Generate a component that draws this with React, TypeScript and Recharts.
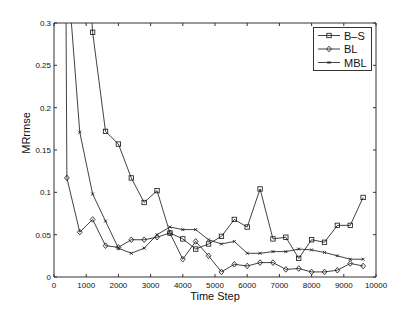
import React from "react";
import { Legend, Line, LineChart, XAxis, YAxis } from "recharts";

// time steps (x) and the three error series
const steps = [
  0, 400, 800, 1200, 1600, 2000, 2400, 2800, 3200, 3600, 4000, 4400, 4800,
  5200, 5600, 6000, 6400, 6800, 7200, 7600, 8000, 8400, 8800, 9200, 9600,
];
const bsValues = [
  1.2, 0.8, 0.5, 0.289, 0.172, 0.157, 0.117, 0.088, 0.102, 0.052, 0.045, 0.033,
  0.039, 0.048, 0.068, 0.059, 0.104, 0.045, 0.047, 0.022, 0.044, 0.041, 0.061,
  0.061, 0.094,
];
const blValues = [
  3, 0.117, 0.053, 0.068, 0.037, 0.035, 0.044, 0.044, 0.047, 0.052, 0.021,
  0.042, 0.025, 0.006, 0.015, 0.013, 0.017, 0.017, 0.009, 0.01, 0.006, 0.006,
  0.008, 0.016, 0.013,
];
const mblValues = [
  0.9, 0.37, 0.171, 0.098, 0.066, 0.034, 0.028, 0.034, 0.05, 0.059, 0.056,
  0.056, 0.044, 0.039, 0.042, 0.028, 0.028, 0.03, 0.03, 0.033, 0.032, 0.029,
  0.025, 0.021, 0.021,
];
const xTicks = [0, 1000, 2000, 3000, 4000, 5000, 6000, 7000, 8000, 9000, 10000];
const yTicks = [0, 0.05, 0.1, 0.15, 0.2, 0.25, 0.3];
const yTickLabels = ["0", "0.05", "0.1", "0.15", "0.2", "0.25", "0.3"];
const seriesOrder = ["bs", "bl", "mbl"];

const data = steps.map((s, i) => ({
  step: s,
  bs: bsValues[i],
  bl: blValues[i],
  mbl: mblValues[i],
}));

const FONT = "'Liberation Sans', Arial, sans-serif";
const AXIS = "#333";
const INK = "#111";
const TICK_LEN = 3;

type Shape = "square" | "diamond" | "cross";

const markerEl = (shape: Shape, cx: number, cy: number, key?: string) => {
  if (shape === "square")
    return (
      <rect key={key} x={cx - 2.2} y={cy - 2.2} width={4.4} height={4.4} fill="none" stroke={INK} strokeWidth={0.8} />
    );
  if (shape === "diamond")
    return (
      <polygon
        key={key}
        points={`${cx},${cy - 2.8} ${cx + 2.4},${cy} ${cx},${cy + 2.8} ${cx - 2.4},${cy}`}
        fill="none"
        stroke={INK}
        strokeWidth={0.8}
      />
    );
  return (
    <g key={key} stroke={INK} strokeWidth={0.8}>
      <line x1={cx - 1.5} y1={cy - 1.5} x2={cx + 1.5} y2={cy + 1.5} />
      <line x1={cx - 1.5} y1={cy + 1.5} x2={cx + 1.5} y2={cy - 1.5} />
    </g>
  );
};

const dotFor = (shape: Shape) => (props: any) => {
  const { cx, cy, index } = props;
  if (cx == null || cy == null) return <g key={`d-${index}`} />;
  return markerEl(shape, cx, cy, `d-${index}`);
};

const BottomTick = (props: any) => {
  const { x, y, payload } = props;
  return (
    <g>
      <path d={`M${x},${y}V${y - TICK_LEN}`} stroke={AXIS} strokeWidth={1} />
      <text x={x} y={y + 11} textAnchor="middle" fontSize={8} fontFamily={FONT} fill={INK}>
        {payload.value}
      </text>
    </g>
  );
};

const TopTick = (props: any) => {
  const { x, y } = props;
  return <path d={`M${x},${y}V${y + TICK_LEN}`} stroke={AXIS} strokeWidth={1} />;
};

const LeftTick = (props: any) => {
  const { x, y, payload, index } = props;
  return (
    <g>
      <path d={`M${x},${y}H${x + TICK_LEN}`} stroke={AXIS} strokeWidth={1} />
      <text x={x - 3} y={y + 3} textAnchor="end" fontSize={8} fontFamily={FONT} fill={INK}>
        {yTickLabels[index] ?? payload.value}
      </text>
    </g>
  );
};

const RightTick = (props: any) => {
  const { x, y } = props;
  return <path d={`M${x},${y}H${x - TICK_LEN}`} stroke={AXIS} strokeWidth={1} />;
};

const shapes: Record<string, Shape> = { bs: "square", bl: "diamond", mbl: "cross" };

const LegendBox = (props: any) => {
  const items = [...(props.payload || [])].sort(
    (a: any, b: any) => seriesOrder.indexOf(a.dataKey) - seriesOrder.indexOf(b.dataKey)
  );
  return (
    <svg width={59} height={44} style={{ display: "block" }}>
      <rect x={0.5} y={0.5} width={58} height={43} fill="#fff" stroke={AXIS} />
      {items.map((it: any, i: number) => {
        const cy = 8.5 + i * 13.5;
        return (
          <g key={it.dataKey}>
            <line x1={5} y1={cy} x2={27} y2={cy} stroke={INK} strokeWidth={0.8} />
            {markerEl(shapes[it.dataKey], 16, cy)}
            <text x={31} y={cy + 4} fontSize={11} fontFamily={FONT} fill={INK}>
              {it.value}
            </text>
          </g>
        );
      })}
    </svg>
  );
};

const YLabel = () => (
  <text
    x={26}
    y={133}
    transform="rotate(-90 26 133)"
    textAnchor="middle"
    dominantBaseline="central"
    fontSize={11}
    fontFamily={FONT}
    fill={INK}
  >
    MRrmse
  </text>
);

export default function App() {
  return (
    <div style={{ position: "absolute", left: 0, top: 0, width: 415, height: 312, background: "#fff" }}>
      <LineChart width={415} height={312} data={data} margin={{ top: 22, right: 38, left: 0, bottom: 0 }}>
        <XAxis
          dataKey="step"
          type="number"
          domain={[0, 10000]}
          ticks={xTicks}
          interval={0}
          height={35}
          tickSize={0}
          tickMargin={0}
          tickLine={false}
          stroke={AXIS}
          tick={<BottomTick />}
          label={{ value: "Time Step", position: "insideBottom", offset: 12, fontSize: 11, fontFamily: FONT, fill: INK }}
        />
        <XAxis
          xAxisId="top"
          orientation="top"
          dataKey="step"
          type="number"
          domain={[0, 10000]}
          ticks={xTicks}
          interval={0}
          height={1}
          tickSize={0}
          tickMargin={0}
          tickLine={false}
          stroke={AXIS}
          tick={<TopTick />}
        />
        <YAxis
          type="number"
          domain={[0, 0.3]}
          allowDataOverflow
          ticks={yTicks}
          interval={0}
          width={54}
          tickSize={0}
          tickMargin={0}
          tickLine={false}
          stroke={AXIS}
          tick={<LeftTick />}
          label={<YLabel />}
        />
        <YAxis
          yAxisId="right"
          orientation="right"
          type="number"
          domain={[0, 0.3]}
          allowDataOverflow
          ticks={yTicks}
          interval={0}
          width={1}
          tickSize={0}
          tickMargin={0}
          tickLine={false}
          stroke={AXIS}
          tick={<RightTick />}
        />
        <Legend
          layout="vertical"
          align="center"
          verticalAlign="middle"
          content={<LegendBox />}
          wrapperStyle={{ left: 313, top: 27, width: 59, height: 44 }}
        />
        <Line
          dataKey="bs"
          name={"B\u2013S"}
          stroke={INK}
          strokeWidth={0.8}
          dot={dotFor("square")}
          activeDot={false}
          isAnimationActive={false}
        />
        <Line
          dataKey="bl"
          name="BL"
          stroke={INK}
          strokeWidth={0.8}
          dot={dotFor("diamond")}
          activeDot={false}
          isAnimationActive={false}
        />
        <Line
          dataKey="mbl"
          name="MBL"
          stroke={INK}
          strokeWidth={0.8}
          dot={dotFor("cross")}
          activeDot={false}
          isAnimationActive={false}
        />
      </LineChart>
    </div>
  );
}
